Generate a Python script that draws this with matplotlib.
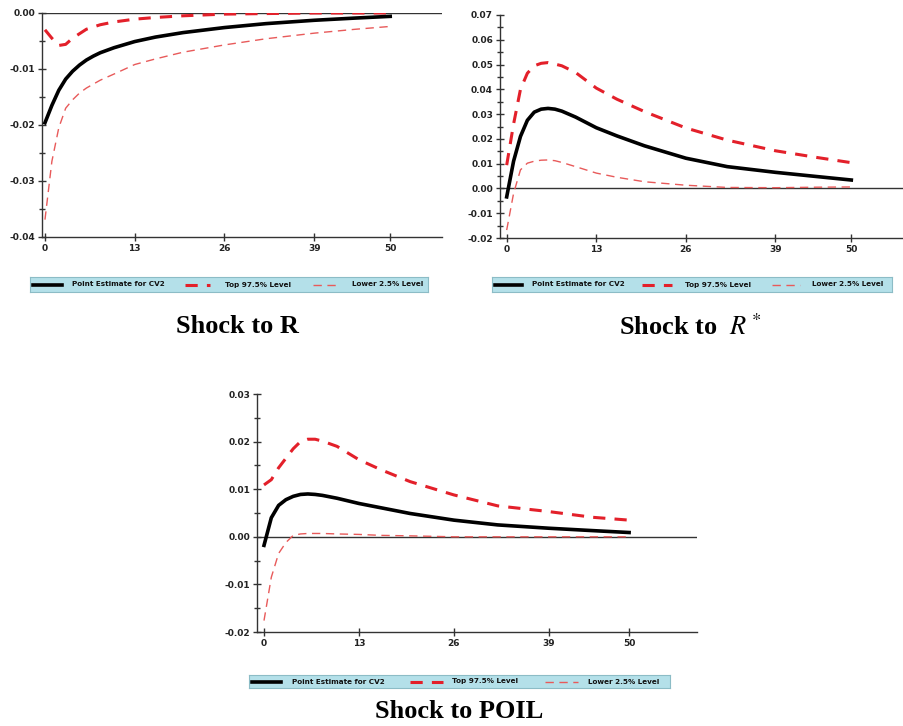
import numpy as np
import matplotlib
matplotlib.use("Agg")
import matplotlib.pyplot as plt
from matplotlib.ticker import MultipleLocator, FuncFormatter

plt.rcParams['mathtext.fontset'] = 'stix'

# horizons (periods after shock)
t = [0, 1, 2, 3, 4, 5, 6, 7, 8, 10, 13, 16, 20, 26, 32, 39, 45, 50]

# Shock to R
r_point = [-0.0196, -0.0165, -0.0138, -0.0118, -0.0104, -0.0093, -0.0084, -0.0077, -0.0071,
           -0.0062, -0.0051, -0.0043, -0.0035, -0.0026, -0.0019, -0.0013, -0.0009, -0.0006]
r_top = [-0.0030, -0.0045, -0.0058, -0.0056, -0.0045, -0.0037, -0.0029, -0.0025, -0.0021,
         -0.0016, -0.0011, -0.0008, -0.0005, -0.0002, -0.0001, 0.0, 0.0, 0.0]
r_low = [-0.0369, -0.0265, -0.0205, -0.0170, -0.0155, -0.0143, -0.0134, -0.0127, -0.0120,
         -0.0109, -0.0092, -0.0082, -0.0070, -0.0057, -0.0046, -0.0036, -0.0029, -0.0024]

# Shock to R*
rs_point = [-0.0034, 0.0110, 0.0210, 0.0275, 0.0308, 0.0320, 0.0323, 0.0320, 0.0312,
            0.0288, 0.0245, 0.0212, 0.0172, 0.0122, 0.0088, 0.0065, 0.0048, 0.0034]
rs_top = [0.0094, 0.0260, 0.0400, 0.0465, 0.0495, 0.0505, 0.0508, 0.0502, 0.0495,
          0.0468, 0.0405, 0.0360, 0.0310, 0.0244, 0.0195, 0.0152, 0.0125, 0.0104]
rs_low = [-0.0168, -0.0020, 0.0075, 0.0102, 0.0110, 0.0114, 0.0115, 0.0112, 0.0105,
          0.0088, 0.0062, 0.0045, 0.0027, 0.0013, 0.0004, 0.0003, 0.0005, 0.0006]

# Shock to POIL
po_point = [-0.0018, 0.0040, 0.0066, 0.0078, 0.0085, 0.0089, 0.0090, 0.0089, 0.0087,
            0.0081, 0.0070, 0.0061, 0.0049, 0.0035, 0.0025, 0.0018, 0.0013, 0.0009]
po_top = [0.0109, 0.0120, 0.0145, 0.0165, 0.0185, 0.0200, 0.0205, 0.0205, 0.0201,
          0.0190, 0.0162, 0.0141, 0.0116, 0.0088, 0.0065, 0.0053, 0.0041, 0.0035]
po_low = [-0.0176, -0.0085, -0.0035, -0.0012, 0.0003, 0.0006, 0.0007, 0.0007, 0.0007,
          0.0006, 0.0005, 0.0003, 0.0002, 0.0, 0.0, 0.0, 0.0, 0.0]

xticks = [0, 13, 26, 39, 50]
labels = ["Point Estimate for CV2", "Top 97.5% Level", "Lower 2.5% Level"]

W, H = 904, 726
fig = plt.figure(figsize=(W / 100, H / 100), dpi=100)


def box(x0, y0, x1, y1):
    return [x0 / W, 1 - y1 / H, (x1 - x0) / W, (y1 - y0) / H]


def panel(rect, pt, top, low, ylim, xlim):
    ax = fig.add_axes(box(*rect))
    ax.axhline(0, color='#333333', lw=1.0, zorder=1)
    ax.plot(t, low, color='#e85a5a', lw=1.0, dashes=(6, 4), zorder=2)
    ax.plot(t, top, color='#e3202a', lw=2.2, dashes=(4, 3), zorder=3)
    ax.plot(t, pt, color='black', lw=2.6, zorder=4)
    ax.set_xlim(*xlim)
    ax.set_ylim(*ylim)
    for s in ['top', 'right']:
        ax.spines[s].set_visible(False)
    for s in ['left', 'bottom']:
        ax.spines[s].set_color('#333333')
        ax.spines[s].set_linewidth(1.0)
    ax.set_xticks(xticks)
    ax.yaxis.set_major_locator(MultipleLocator(0.01))
    ax.yaxis.set_minor_locator(MultipleLocator(0.005))
    ax.yaxis.set_major_formatter(FuncFormatter(lambda v, p: f"{v:.2f}".replace("-0.00", "0.00")))
    ax.tick_params(which='both', direction='inout', color='#333333', width=1.0)
    ax.tick_params(which='major', length=6, labelsize=6.5, pad=2)
    ax.tick_params(which='minor', length=4)
    for lab in ax.get_xticklabels() + ax.get_yticklabels():
        lab.set_fontweight('bold')
        lab.set_color('#222222')
    ax.patch.set_alpha(0)
    return ax


def legend(rect, offs):
    lg = fig.add_axes(box(*rect))
    lg.set_facecolor('#b4e0e9')
    lg.set_xlim(rect[0], rect[2])
    lg.set_ylim(0, 1)
    lg.set_xticks([])
    lg.set_yticks([])
    for s in lg.spines.values():
        s.set_color('#8cbcc6')
    styles = [dict(color='black', lw=2.6),
              dict(color='#e3202a', lw=2.2, dashes=(4, 3)),
              dict(color='#e85a5a', lw=1.0, dashes=(6, 4))]
    for (a, b, tx), st, lab in zip(offs, styles, labels):
        lg.plot([a, b], [0.5, 0.5], **st)
        lg.text(tx, 0.5, lab, fontsize=5.2, fontweight='bold', va='center', ha='left',
                color='#111111')


panel((42, 13, 442, 237), r_point, r_top, r_low, (-0.04, 0.0), (-0.43, 57.5))
panel((500, 15, 903, 238), rs_point, rs_top, rs_low, (-0.02, 0.07), (-0.97, 57.5))
panel((257, 394, 697, 632), po_point, po_top, po_low, (-0.02, 0.03), (-0.96, 59.3))

legend((30, 277, 428, 292), [(33, 62, 72), (185, 210, 225), (313, 340, 352)])
legend((492, 277, 892, 292), [(495, 522, 532), (642, 672, 685), (772, 800, 812)])
legend((249, 675, 670, 688), [(252, 281, 292), (410, 443, 452), (545, 578, 588)])

tfont = dict(family='Liberation Serif', fontsize=19, fontweight='bold', ha='center', va='center')
fig.text(237 / W, 1 - 327 / H, "Shock to R", **tfont)
fig.text(690 / W, 1 - 327 / H, r"Shock to  $R^*$", **tfont)
fig.text(459 / W, 1 - 711 / H, "Shock to POIL", **tfont)

fig.savefig("out.png", dpi=100)
